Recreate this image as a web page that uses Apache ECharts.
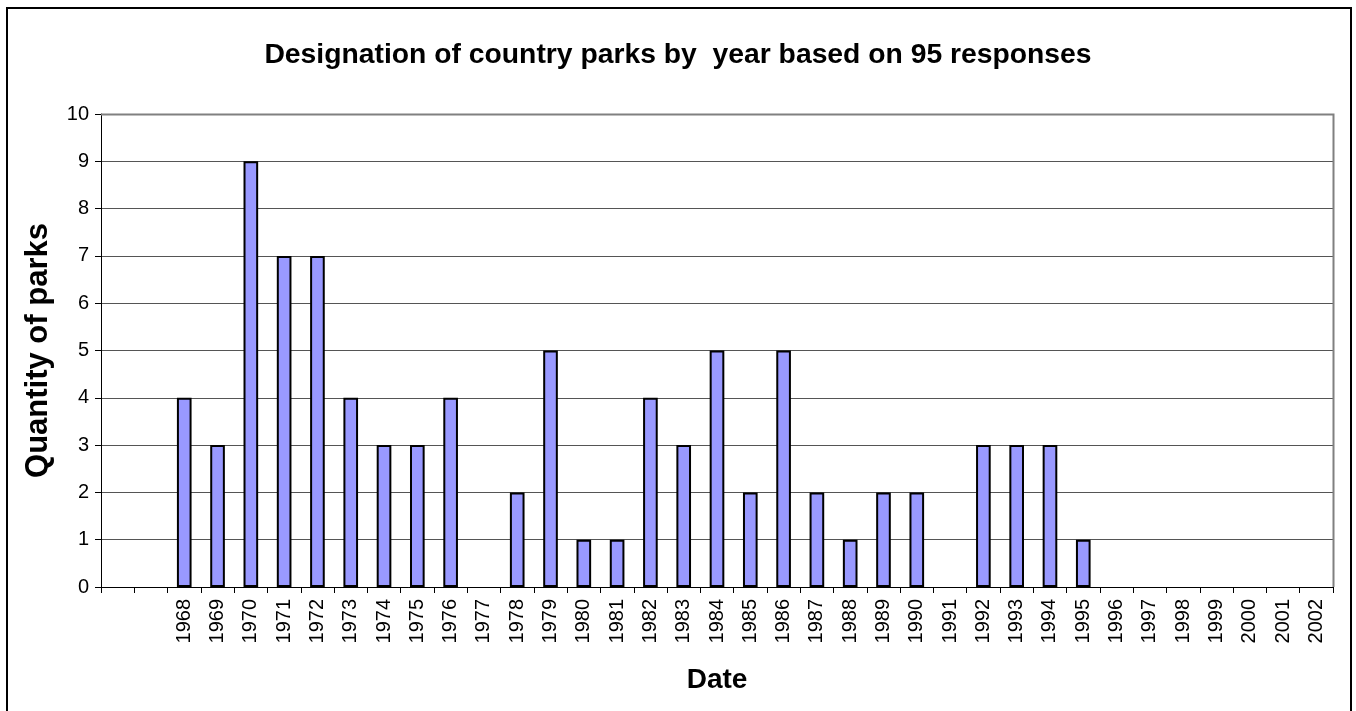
<!DOCTYPE html>
<html><head><meta charset="utf-8">
<script src="https://cdn.jsdelivr.net/npm/echarts@6/dist/echarts.min.js"></script>
<style>html,body{margin:0;padding:0;background:#fff}#c{width:1356px;height:711px}</style>
</head><body><div id="c"></div>
<script>
const categories = ['', '', '1968','1969','1970','1971','1972','1973','1974','1975','1976','1977','1978','1979','1980','1981','1982','1983','1984','1985','1986','1987','1988','1989','1990','1991','1992','1993','1994','1995','1996','1997','1998','1999','2000','2001','2002'];
const parks = [null, null, 4,3,9,7,7,4,3,3,4,0,2,5,1,1,4,3,5,2,5,2,1,2,2,0,3,3,3,1,0,0,0,0,0,0,0];
const yTicks = [0,1,2,3,4,5,6,7,8,9,10];

const chart = echarts.init(document.getElementById('c'));
const F = 'Liberation Sans, Arial, sans-serif';
chart.setOption({
  animation: false,
  title: {
    text: 'Designation of country parks by  year based on 95 responses',
    left: 'center', top: 36,
    textStyle: {fontFamily: F, fontSize: 28.3, fontWeight: 'bold', color: '#000'}
  },
  graphic: [
    {type: 'rect', shape: {x: 7, y: 8, width: 1344, height: 710}, style: {fill: 'none', stroke: '#000', lineWidth: 2}, z: 0},
    {type: 'polyline', shape: {points: [[101, 114.5], [1333.5, 114.5], [1333.5, 587]]}, style: {stroke: '#808080', lineWidth: 2, fill: 'none'}, z: 10}
  ],
  grid: {left: 101, right: 1356 - 1333, top: 114, bottom: 711 - 587},
  xAxis: {
    type: 'category', data: categories,
    name: 'Date', nameLocation: 'middle', nameGap: 79,
    nameTextStyle: {fontFamily: F, fontSize: 28, fontWeight: 'bold', color: '#000'},
    axisLine: {lineStyle: {color: '#000', width: 1}},
    axisTick: {show: true, length: 6, lineStyle: {color: '#000'}, alignWithLabel: false},
    axisLabel: {rotate: 90, interval: 0, fontFamily: F, fontSize: 20, color: '#000', margin: 12},
    splitLine: {show: false}
  },
  yAxis: {
    type: 'value', min: 0, max: 10, interval: 1,
    name: 'Quantity of parks', nameLocation: 'middle', nameGap: 47,
    nameTextStyle: {fontFamily: F, fontSize: 31, fontWeight: 'bold', color: '#000'},
    axisLine: {show: true, lineStyle: {color: '#000', width: 1}},
    axisTick: {show: true, length: 6, inside: false, lineStyle: {color: '#000'}},
    axisLabel: {fontFamily: F, fontSize: 20, color: '#000', margin: 12,
      formatter: v => yTicks.includes(v) ? String(v) : ''},
    splitLine: {show: true, lineStyle: {color: '#555', width: 1}}
  },
  series: [{
    type: 'bar', barWidth: '44%',
    data: parks.map(v => v === 0 ? {value: 0, itemStyle: {borderWidth: 0}} : v),
    itemStyle: {color: '#9999FF', borderColor: '#000', borderWidth: 2}
  }]
});
</script></body></html>
